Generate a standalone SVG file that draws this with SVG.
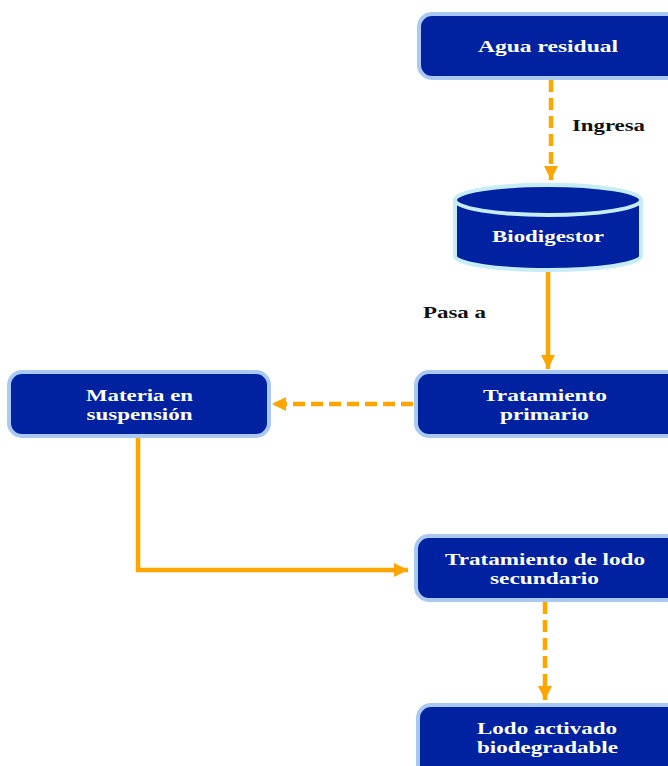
<svg xmlns="http://www.w3.org/2000/svg" width="668" height="766" viewBox="0 0 668 766">
  <defs>
    <marker id="head" viewBox="0 0 10 10" refX="10" refY="5" markerWidth="3.2" markerHeight="3.2" markerUnits="strokeWidth" orient="auto">
      <path d="M0,0 L10,5 L0,10 Z" fill="#ffa500"/>
    </marker>
  </defs>
  <style>
    .box { fill: #0022a0; stroke: #a9c9f2; stroke-width: 4; }
    .cyl { fill: #0022a0; stroke: #c6ecf8; stroke-width: 4; }
    .lbl { font-family: "Liberation Serif", "Times New Roman", serif; font-weight: bold; font-size: 16.5px; fill: #ffffff; text-anchor: middle; }
    .edge-lbl { font-family: "Liberation Serif", "Times New Roman", serif; font-weight: bold; font-size: 17.5px; fill: #111111; }
    .solid { fill: none; stroke: #ffa500; stroke-width: 4.5; marker-end: url(#head); }
    .dash { fill: none; stroke: #ffa500; stroke-width: 4.5; stroke-dasharray: 12 6; marker-end: url(#head); }
  </style>

  <!-- connectors -->
  <g id="connectors">
    <line class="dash" x1="551" y1="80" x2="551" y2="180"/>
    <line class="solid" x1="548" y1="271" x2="548" y2="369"/>
    <line class="dash" x1="413" y1="404" x2="272" y2="404"/>
    <polyline class="solid" points="138,435 138,570 408,570"/>
    <line class="dash" x1="545" y1="602" x2="545" y2="700"/>
    <text class="edge-lbl" x="572" y="131" textLength="73" lengthAdjust="spacingAndGlyphs">Ingresa</text>
    <text class="edge-lbl" x="423" y="318" textLength="63" lengthAdjust="spacingAndGlyphs">Pasa a</text>
  </g>

  <g id="agua-residual">
    <rect class="box" x="419" y="14" width="262" height="64" rx="13"/>
    <text class="lbl" x="548" y="52" textLength="140" lengthAdjust="spacingAndGlyphs">Agua residual</text>
  </g>

  <g id="biodigestor">
    <path class="cyl" d="M455,200 L455,256 A93,14 0 0 0 641,256 L641,200 A93,15 0 0 0 455,200 Z"/>
    <ellipse class="cyl" cx="548" cy="200" rx="93" ry="15"/>
    <text class="lbl" x="548" y="242" textLength="112" lengthAdjust="spacingAndGlyphs">Biodigestor</text>
  </g>

  <g id="materia-suspension">
    <rect class="box" x="9" y="372" width="260" height="64" rx="13"/>
    <text class="lbl" x="139.5" y="400.5" textLength="107" lengthAdjust="spacingAndGlyphs">Materia en</text>
    <text class="lbl" x="139.5" y="419.5" textLength="106" lengthAdjust="spacingAndGlyphs">suspensión</text>
  </g>

  <g id="tratamiento-primario">
    <rect class="box" x="416" y="372" width="265" height="64" rx="13"/>
    <text class="lbl" x="545" y="401" textLength="124" lengthAdjust="spacingAndGlyphs">Tratamiento</text>
    <text class="lbl" x="544.5" y="420" textLength="89" lengthAdjust="spacingAndGlyphs">primario</text>
  </g>

  <g id="tratamiento-secundario">
    <rect class="box" x="416" y="536" width="265" height="64" rx="13"/>
    <text class="lbl" x="545" y="564.5" textLength="200" lengthAdjust="spacingAndGlyphs">Tratamiento de lodo</text>
    <text class="lbl" x="544.5" y="583.5" textLength="109" lengthAdjust="spacingAndGlyphs">secundario</text>
  </g>

  <g id="lodo-activado">
    <rect class="box" x="418" y="705" width="265" height="80" rx="13"/>
    <text class="lbl" x="547" y="733.5" textLength="140" lengthAdjust="spacingAndGlyphs">Lodo activado</text>
    <text class="lbl" x="547.5" y="752.5" textLength="141" lengthAdjust="spacingAndGlyphs">biodegradable</text>
  </g>
</svg>
